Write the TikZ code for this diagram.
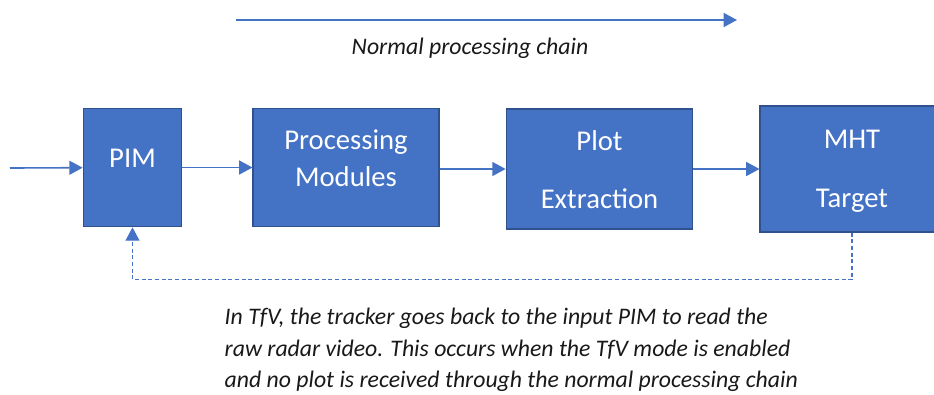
\documentclass[tikz,border=0pt]{standalone}
\usepackage{fontspec}
\setmainfont{Carlito}
\usetikzlibrary{arrows.meta}
\definecolor{boxblue}{HTML}{4472C4}
\definecolor{boxedge}{HTML}{2F528F}
\definecolor{lineblue}{HTML}{4472C4}
\tikzset{
	blk/.style={draw=boxedge, line width=0.8pt, fill=boxblue, inner sep=0pt},
	intxt/.style={text=white, align=center, font=\fontsize{21.5}{26}\selectfont},
	note/.style={text=black!90, font=\fontsize{17.8}{23.6}\selectfont\itshape},
	flow/.style={draw=lineblue, line width=1.2pt, -{Triangle[length=10pt,width=10.5pt]}},
	back/.style={draw=lineblue, line width=0.8pt, dash pattern=on 3pt off 2pt, -{Triangle[length=10pt,width=10.5pt]}}
}
\begin{document}
\begin{tikzpicture}[x=0.75pt,y=-0.75pt]
		\useasboundingbox (0,0) rectangle (934,394);
		\node[blk, minimum width=74pt, minimum height=89pt] (pim) at (132.5,167.5) {};
		\node[blk, minimum width=139.5pt, minimum height=89pt] (proc) at (346,167.5) {};
		\node[blk, minimum width=140pt, minimum height=90pt] (plot) at (599.5,169) {};
		\node[blk, minimum width=138pt, minimum height=94.5pt] (mht) at (852,169) {};
		\node[intxt] (pimtxt) at (132.5,158) {PIM};
		\node[intxt] (proctxt) at (346,158.5) {Processing\\[2pt]Modules};
		\node[intxt] (plottxt) at (599.5,170) {Plot\\[17.5pt]Extraction};
		\node[intxt] (mhttxt) at (852,171.5) {MHT\\[18pt]Target};
		\coordinate (src) at (10,168);
		\draw[flow] (src) -- (pim);
		\draw[flow] (pim) -- (proc);
		\draw[flow] (proc.east |- plot) -- (plot);
		\draw[flow] (plot) -- (mht);
		\coordinate (cs) at (236,20);
		\coordinate (ce) at (737,20);
		\draw[flow] (cs) -- (ce);
		\node[note] (chain) at (470,48) {Normal processing chain};
		\draw[back] (mht.south) -- ++(0,47) -| (pim.south);
		\node[note, align=left, anchor=west] (tfv) at (220,350) {In TfV, the tracker goes back to the input PIM to read the\\raw radar video. This occurs when the TfV mode is enabled\\and no plot is received through the normal processing chain};
	\end{tikzpicture}
\end{document}
